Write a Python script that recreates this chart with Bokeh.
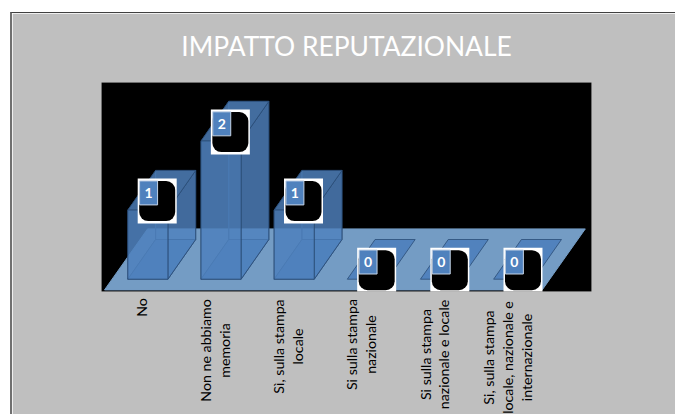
from bokeh.plotting import figure
from bokeh.embed import file_html
from bokeh.resources import INLINE
from bokeh.models import ColumnDataSource
from bokeh.core.properties import value
import math

title_text = "IMPATTO REPUTAZIONALE"
categories = ["No", "Non ne abbiamo\nmemoria", "Sì, sulla stampa\nlocale", "Si sulla stampa\nnazionale",
              "Si sulla stampa\nnazionale e locale", "Si, sulla stampa\nlocale, nazionale e\ninternazionale"]
counts = [1, 2, 1, 0, 0, 0]
label_lengths = [18, 104, 96, 92, 112, 118]

# pixels per data unit
PX_X = 73.0
PX_Y = 69.1
BAR_HALF = 20 / PX_X
DEPTH_X = 27.7 / PX_X
DEPTH_Y = 39.7 / PX_Y
X0, X1, Y0, Y1 = -0.634, 6.064, -0.178, 2.847
B_LEFT, B_RIGHT, B_TOP, B_BOTTOM = 89, 86, 69, 124

p = figure(width=665, height=402, output_backend="svg", toolbar_location=None,
           x_range=(X0, X1), y_range=(Y0, Y1),
           min_border_left=B_LEFT, min_border_right=B_RIGHT, min_border_top=B_TOP, min_border_bottom=B_BOTTOM,
           background_fill_color="black", border_fill_color="#BFBFBF", outline_line_color=None)
p.margin = (12, 0, 0, 10)
p.styles = {"border-top": "1px solid #404040", "border-left": "2px solid #707070"}
p.grid.visible = False
p.yaxis.visible = False
p.xaxis.visible = False

# floor
n = len(categories)
fx0, fx1 = -0.593, 5.39
fy0 = -0.155
fdx, fdy = 43 / PX_X, 61 / PX_Y
p.patch([fx0, fx1, fx1 + fdx, fx0 + fdx], [fy0, fy0, fy0 + fdy, fy0 + fdy], fill_color="#749CC4", line_color="#749CC4")

BAR_FILL = "#4F81BD"
EDGE = "#2A4C75"
for i, v in enumerate(counts):
    l, r = i - BAR_HALF, i + BAR_HALF
    dx, dy = DEPTH_X, DEPTH_Y
    faces = [
        ([l + dx, r + dx, r + dx, l + dx], [dy, dy, v + dy, v + dy], 0.3),    # back
        ([l, l + dx, l + dx, l], [0, dy, v + dy, v], 0.2),                    # left
        ([l, r, r + dx, l + dx], [0, 0, dy, dy], 0.95),                       # bottom
        ([r, r + dx, r + dx, r], [0, dy, v + dy, v], 0.75),                   # right
        ([l, r, r + dx, l + dx], [v, v, v + dy, v + dy], 0.78),               # top
        ([l, r, r, l], [0, 0, v, v], 0.85),                                   # front
    ]
    for xs, ys, a in faces:
        if v == 0 and a != 0.95:
            continue
        p.patch(xs, ys, fill_color=BAR_FILL, fill_alpha=a, line_color=EDGE, line_alpha=0.8, line_width=1)

xs = [i + 9.3 / PX_X for i in range(n)]
ys = [v + 9 / PX_Y for v in counts]
src = ColumnDataSource(dict(x=xs, y=ys))
p.rect("x", "y", source=src, width=39, width_units="screen", height=45, height_units="screen",
       fill_color="white", line_color=None)
p.rect("x", "y", source=src, width=36, width_units="screen", height=40, height_units="screen",
       fill_color="black", line_color=None, border_radius=9)

bx = [x - 8.6 / PX_X for x in xs]
by = [y + 8.2 / PX_Y for y in ys]
src2 = ColumnDataSource(dict(x=bx, y=by, t=[str(v) for v in counts]))
p.rect("x", "y", source=src2, width=18, width_units="screen", height=24, height_units="screen",
       fill_color=BAR_FILL, line_color="#C6D4E6", line_width=1)
p.text("x", "y", text="t", source=src2, text_color="white", text_font=value("Lato"), text_font_style="bold",
       text_font_size="14px", text_align="center", text_baseline="middle")

src3 = ColumnDataSource(dict(
    x=[i - 6 / PX_X for i in range(n)],
    y=[Y0 - (7 + ln / 2) / PX_Y for ln in label_lengths],
    t=categories))
p.text("x", "y", text="t", source=src3, angle=math.pi / 2, text_align="center", text_baseline="middle",
       text_font=value("Lato"), text_font_size="14.2px", text_color="black", text_line_height=1.1, level="overlay")

src4 = ColumnDataSource(dict(x=[(X0 + X1) / 2], y=[Y1 + 37 / PX_Y], t=[title_text]))
p.text("x", "y", text="t", source=src4, text_align="center", text_baseline="middle", text_font=value("Lato"),
       text_font_size="26.4px", text_color="white", level="overlay")

open("out.html", "w").write(file_html(p, INLINE))
